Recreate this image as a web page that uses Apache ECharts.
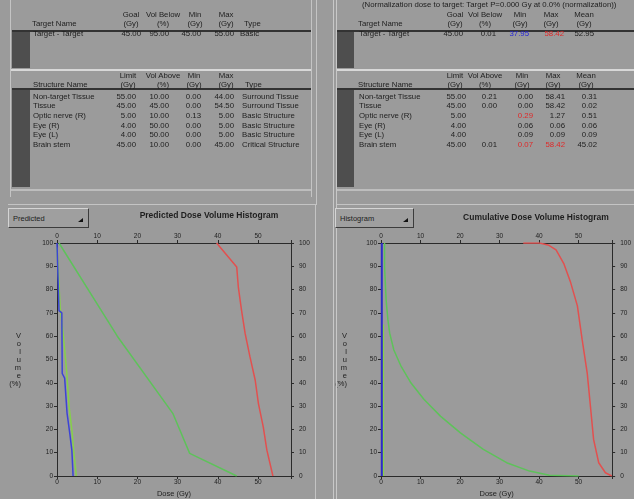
<!DOCTYPE html>
<html>
<head>
<meta charset="utf-8">
<script src="https://cdn.jsdelivr.net/npm/echarts@6/dist/echarts.min.js"></script>
<style>
body{margin:0;width:634px;height:499px;background:#9b9b9b;overflow:hidden;position:relative;
  font-family:"Liberation Sans",Arial,sans-serif;font-size:7.8px;color:#1e1e1e}
#chart{position:absolute;left:0;top:0;width:634px;height:499px}
.a{position:absolute;white-space:nowrap;line-height:8px}
.ln{position:absolute}
.drop{position:absolute;height:20px;background:#9f9f9f;border:1px solid;border-color:#d4d4d4 #3c3c3c #3c3c3c #d4d4d4;
  font-size:7.5px;line-height:20px;padding-left:4px;box-sizing:border-box}
.drop i{position:absolute;right:5px;top:9px;width:0;height:0;border-left:5px solid transparent;border-bottom:4px solid #111}
.ttl{position:absolute;font-weight:bold;font-size:8.5px;white-space:nowrap;transform:translateX(-50%)}
</style>
</head>
<body>
<div id="chart"></div>
<div id="ui"></div>
<script>
// 表格数据
const targetNames = ['Target - Target'];
const targetGoal = ['45.00'];
const targetVolBelow = ['95.00'];
const targetMin = ['45.00'];
const targetMax = ['55.00'];
const targetType = ['Basic'];

const structNames = ['Non-target Tissue', 'Tissue', 'Optic nerve (R)', 'Eye (R)', 'Eye (L)', 'Brain stem'];
const structLimit = ['55.00', '45.00', '5.00', '4.00', '4.00', '45.00'];
const structVolAbove = ['10.00', '45.00', '10.00', '50.00', '50.00', '10.00'];
const structMin = ['0.00', '0.00', '0.13', '0.00', '0.00', '0.00'];
const structMax = ['44.00', '54.50', '5.00', '5.00', '5.00', '45.00'];
const structType = ['Surround Tissue', 'Surround Tissue', 'Basic Structure', 'Basic Structure', 'Basic Structure', 'Critical Structure'];

// 结果数据
const resTargetVol = ['0.01'];
const resTargetMin = ['37.95'];
const resTargetMax = ['58.42'];
const resTargetMean = ['52.95'];
const resStructVol = ['0.21', '0.00', '', '', '', '0.01'];
const resStructMin = ['0.00', '0.00', '0.29', '0.06', '0.09', '0.07'];
const resStructMax = ['58.41', '58.42', '1.27', '0.06', '0.09', '58.42'];
const resStructMean = ['0.31', '0.02', '0.51', '0.06', '0.09', '45.02'];
const resStructMinRed = [false, false, true, false, false, true];
const resStructMaxRed = [false, false, false, false, false, true];

// 剂量体积直方图 [剂量 Gy, 体积 %]
const predTarget = [[39.7,100],[44.7,89.7],[45.1,81.1],[45.9,71.1],[46.8,61.1],[48,51.1],[49.3,41.1],[50.1,31.1],[51.3,21.1],[52.2,11.1],[53.7,0]];
const predTissue = [[0.5,100],[15,60],[28.8,26.9],[33,9.7],[44.7,0]];
const predBrainStem = [[0,100],[0.5,71],[1.2,70],[1.3,44],[1.9,42],[2.5,27],[3.2,18],[3.7,11],[4,0]];
const predOptic = [[0,98],[0.8,72],[1.6,60],[2.4,45],[3,30],[3.8,18],[4.2,10],[4.8,0]];

const cumTarget = [[36,100],[40.1,100],[42.5,99],[44.3,97],[46.3,91],[48,83],[49.7,73],[50.9,58.6],[52.2,44],[53,30],[53.8,15.7],[55.1,5.7],[56.8,1.4],[58.4,0]];
const cumTissue = [[0.9,100],[0.9,89.7],[1.3,75.5],[1.75,67],[2.2,61.3],[3.25,54.1],[5.1,47],[7.6,39.9],[10.9,32.8],[15.1,25.6],[20.1,18.5],[25.9,11.4],[31.8,5.7],[37.6,2.1],[42.6,0.3],[50,0]];
const cumBrainStem = [[0.2,100],[0.2,0]];
const cumOptic = [[0.6,65],[0.6,0]];

const doseTicks = [0, 10, 20, 30, 40, 50];

// 界面
const ui = document.getElementById('ui');
function txt(s, x, y, align, color, bold) {
    let d = document.createElement('div');
    d.className = 'a';
    d.textContent = s;
    d.style.top = (y - 4) + 'px';
    if (align === 'r') { d.style.right = (634 - x) + 'px'; }
    else if (align === 'c') { d.style.left = x + 'px'; d.style.transform = 'translateX(-50%)'; }
    else { d.style.left = x + 'px'; }
    if (color) d.style.color = color;
    if (bold) d.style.fontWeight = 'bold';
    ui.appendChild(d);
}
function box(x, y, w, h, c) {
    let d = document.createElement('div');
    d.className = 'ln';
    d.style.cssText += `left:${x}px;top:${y}px;width:${w}px;height:${h}px;background:${c}`;
    ui.appendChild(d);
}

// 左侧面板
box(10, 0, 1, 197, '#c4c4c4');
box(311, 0, 1, 197, '#c4c4c4');
box(12, 30, 299, 2, '#333');
box(12, 32, 18, 36, '#4e4e4e');
box(11, 69, 300, 2, '#d8d8d8');
box(12, 88, 299, 2, '#333');
box(12, 90, 18, 97, '#4e4e4e');
box(11, 189, 300, 2, '#bdbdbd');
// 右侧面板
box(316, 0, 1, 205, '#c4c4c4');
box(333, 0, 1, 499, '#c8c8c8');
box(336, 0, 1, 499, '#c8c8c8');
box(337, 30, 297, 2, '#333');
box(337, 32, 17, 36, '#4e4e4e');
box(337, 69, 297, 2, '#d8d8d8');
box(337, 88, 297, 2, '#333');
box(337, 90, 17, 97, '#4e4e4e');
box(337, 189, 297, 2, '#bdbdbd');
// 下方面板边
box(8, 204, 308, 1, '#c4c4c4');
box(337, 204, 297, 1, '#c4c4c4');
box(315, 205, 1, 294, '#c4c4c4');

// 左表头
txt('Goal', 131, 15, 'c'); txt('(Gy)', 131, 24, 'c');
txt('Vol Below', 163, 15, 'c'); txt('(%)', 163, 24, 'c');
txt('Min', 195, 15, 'c'); txt('(Gy)', 195, 24, 'c');
txt('Max', 226, 15, 'c'); txt('(Gy)', 226, 24, 'c');
txt('Target Name', 32, 24); txt('Type', 244, 24);
for (let i = 0; i < targetNames.length; i++) {
    let y = 34 + i * 10;
    txt(targetNames[i], 33, y);
    txt(targetGoal[i], 141, y, 'r');
    txt(targetVolBelow[i], 169, y, 'r');
    txt(targetMin[i], 201, y, 'r');
    txt(targetMax[i], 234, y, 'r');
    txt(targetType[i], 240, y);
}
txt('Limit', 128, 76, 'c'); txt('(Gy)', 128, 85, 'c');
txt('Vol Above', 163, 76, 'c'); txt('(%)', 163, 85, 'c');
txt('Min', 194, 76, 'c'); txt('(Gy)', 194, 85, 'c');
txt('Max', 226, 76, 'c'); txt('(Gy)', 226, 85, 'c');
txt('Structure Name', 33, 85); txt('Type', 245, 85);
const rowY = [97, 106, 116, 126, 135, 145];
for (let i = 0; i < structNames.length; i++) {
    let y = rowY[i];
    txt(structNames[i], 33, y);
    txt(structLimit[i], 136, y, 'r');
    txt(structVolAbove[i], 169, y, 'r');
    txt(structMin[i], 201, y, 'r');
    txt(structMax[i], 234, y, 'r');
    txt(structType[i], 242, y);
}

// 右表头
txt('(Normalization dose to target: Target P=0.000 Gy at 0.0% (normalization))', 362, 5);
txt('Goal', 455, 15, 'c'); txt('(Gy)', 455, 24, 'c');
txt('Vol Below', 485, 15, 'c'); txt('(%)', 485, 24, 'c');
txt('Min', 520, 15, 'c'); txt('(Gy)', 520, 24, 'c');
txt('Max', 551, 15, 'c'); txt('(Gy)', 551, 24, 'c');
txt('Mean', 584, 15, 'c'); txt('(Gy)', 584, 24, 'c');
txt('Target Name', 358, 24);
for (let i = 0; i < targetNames.length; i++) {
    let y = 34 + i * 10;
    txt(targetNames[i], 359, y);
    txt(targetGoal[i], 463, y, 'r');
    txt(resTargetVol[i], 496, y, 'r');
    txt(resTargetMin[i], 529, y, 'r', '#2424d8');
    txt(resTargetMax[i], 564, y, 'r', '#e02828');
    txt(resTargetMean[i], 594, y, 'r');
}
txt('Limit', 455, 76, 'c'); txt('(Gy)', 455, 85, 'c');
txt('Vol Above', 485, 76, 'c'); txt('(%)', 485, 85, 'c');
txt('Min', 522, 76, 'c'); txt('(Gy)', 522, 85, 'c');
txt('Max', 553, 76, 'c'); txt('(Gy)', 553, 85, 'c');
txt('Mean', 586, 76, 'c'); txt('(Gy)', 586, 85, 'c');
txt('Structure Name', 358, 85);
for (let i = 0; i < structNames.length; i++) {
    let y = rowY[i];
    txt(structNames[i], 359, y);
    txt(structLimit[i], 466, y, 'r');
    txt(resStructVol[i], 497, y, 'r');
    txt(resStructMin[i], 533, y, 'r', resStructMinRed[i] ? '#e02828' : null);
    txt(resStructMax[i], 565, y, 'r', resStructMaxRed[i] ? '#e02828' : null);
    txt(resStructMean[i], 597, y, 'r');
}

// 下拉框和标题
ui.insertAdjacentHTML('beforeend',
    '<div class="drop" style="left:8px;top:208px;width:81px">Predicted<i></i></div>' +
    '<div class="drop" style="left:335px;top:208px;width:79px">Histogram<i></i></div>' +
    '<div class="ttl" style="left:209px;top:210px">Predicted Dose Volume Histogram</div>' +
    '<div class="ttl" style="left:536px;top:212px">Cumulative Dose Volume Histogram</div>');

// 图表
const myChart = echarts.init(document.getElementById('chart'));
const axisColor = '#2a2a2a';
function xAx(grid, pos, max, named) {
    return {
        gridIndex: grid, type: 'value', position: pos, min: 0, max: max, interval: 10,
        axisLine: { onZero: false, lineStyle: { color: axisColor, width: 1 } },
        axisTick: { length: 3, lineStyle: { color: axisColor } },
        axisLabel: {
            fontSize: 6.5, color: '#222', margin: 3,
            formatter: (v) => doseTicks.includes(v) ? String(v) : ''
        },
        splitLine: { show: false },
        name: named ? 'Dose (Gy)' : '', nameLocation: 'middle', nameGap: 14,
        nameTextStyle: { fontSize: 7.5, color: '#222' }
    };
}
function yAx(grid, pos, named) {
    return {
        gridIndex: grid, type: 'value', position: pos, min: 0, max: 100, interval: 10,
        axisLine: { show: true, onZero: false, lineStyle: { color: axisColor, width: 1 } },
        axisTick: { show: true, length: 3, lineStyle: { color: axisColor } },
        axisLabel: { fontSize: 6.5, color: '#222', margin: pos === 'left' ? 4 : 8 },
        splitLine: { show: false },
        name: named ? 'V\no\nl\nu\nm\ne\n(%)' : '', nameLocation: 'middle', nameRotate: 0,
        nameGap: grid === 0 ? 36 : 34,
        nameTextStyle: { fontSize: 7.5, color: '#222', lineHeight: 8 }
    };
}
function line(x, y, data, color, w) {
    return {
        type: 'line', xAxisIndex: x, yAxisIndex: y, data: data, showSymbol: false,
        lineStyle: { color: color, width: w || 1.5 }, itemStyle: { color: color }, silent: true
    };
}
let option = {
    animation: false,
    grid: [
        { left: 57, top: 243, width: 234, height: 233 },
        { left: 381, top: 243, width: 236, height: 234 }
    ],
    xAxis: [xAx(0, 'bottom', 58.2, true), xAx(0, 'top', 58.2, false), xAx(1, 'bottom', 58.5, true), xAx(1, 'top', 58.5, false)],
    yAxis: [yAx(0, 'left', true), yAx(0, 'right', false), yAx(1, 'left', true), yAx(1, 'right', false)],
    series: [
        line(0, 0, predTarget, '#e2504f'),
        line(0, 0, predTissue, '#5ec25a'),
        line(0, 0, predOptic, '#86d04a'),
        line(0, 0, predBrainStem, '#3c44d6'),
        line(2, 2, cumTarget, '#e2504f'),
        line(2, 2, cumTissue, '#5ec25a'),
        line(2, 2, cumOptic, '#86d04a'),
        line(2, 2, cumBrainStem, '#2c2cc8', 2)
    ]
};
myChart.setOption(option);
</script>
</body>
</html>
